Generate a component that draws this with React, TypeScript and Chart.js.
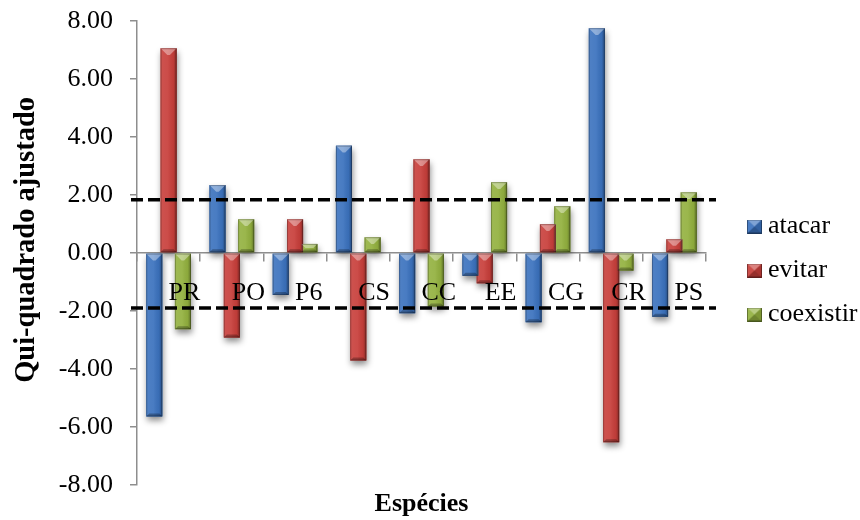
import React, { useEffect, useRef } from "react";
import { Chart, registerables } from "chart.js";

Chart.register(...registerables);

// Species codes on the category axis
const species = ["PR", "PO", "P6", "CS", "CC", "EE", "CG", "CR", "PS"];

// Adjusted chi-square residuals per behaviour
const atacar = [-5.64, 2.34, -1.45, 3.7, -2.08, -0.79, -2.39, 7.75, -2.2];
const evitar = [7.06, -2.92, 1.16, -3.71, 3.23, -1.05, 0.99, -6.53, 0.47];
const coexistir = [-2.63, 1.16, 0.31, 0.54, -1.85, 2.44, 1.61, -0.61, 2.09];

const seriesLabels = ["atacar", "evitar", "coexistir"];
const seriesColors = ["#3b72be", "#c83f3b", "#93b13f"];

// Significance thresholds drawn as dashed reference lines
const criticalLines = [1.83, -1.9];

// Value axis range
const yMin = -8;
const yMax = 8;
const yStep = 2;

const yTitle = "Qui-quadrado ajustado";
const xTitle = "Espécies";

const SERIF = "'Liberation Serif', 'Times New Roman', Times, serif";
const AXIS_GRAY = "#8e8e8e";

function drawBevel(ctx: CanvasRenderingContext2D, left: number, top: number, w: number, h: number) {
  if (w <= 0 || h <= 0) return;
  const right = left + w;
  const bottom = top + h;
  ctx.save();
  const g = ctx.createLinearGradient(left, 0, right, 0);
  g.addColorStop(0, "rgba(255,255,255,0.10)");
  g.addColorStop(0.45, "rgba(255,255,255,0.07)");
  g.addColorStop(0.8, "rgba(0,0,0,0.05)");
  g.addColorStop(1, "rgba(0,0,0,0.35)");
  ctx.fillStyle = g;
  ctx.fillRect(left, top, w, h);

  const d = Math.min(w * 0.42, h / 2);
  ctx.fillStyle = "rgba(255,255,255,0.38)";
  ctx.beginPath();
  ctx.moveTo(left, top);
  ctx.lineTo(right, top);
  ctx.lineTo(right - d, top + d);
  ctx.lineTo(left + d, top + d);
  ctx.closePath();
  ctx.fill();

  const b = Math.min(3, h / 3);
  ctx.fillStyle = "rgba(0,0,0,0.28)";
  ctx.beginPath();
  ctx.moveTo(left, bottom);
  ctx.lineTo(right, bottom);
  ctx.lineTo(right - b, bottom - b);
  ctx.lineTo(left + b, bottom - b);
  ctx.closePath();
  ctx.fill();

  ctx.strokeStyle = "rgba(0,0,0,0.25)";
  ctx.lineWidth = 1;
  ctx.strokeRect(left + 0.5, top + 0.5, w - 1, h - 1);
  ctx.restore();
}

// Legend marker: a small bevelled square, placed at the right of its image
function makeSwatch(color: string): HTMLCanvasElement {
  const c = document.createElement("canvas");
  c.width = 45;
  c.height = 14;
  const g = c.getContext("2d")!;
  const x0 = 30;
  const s = 15;
  const h = 14;
  const cx = x0 + s / 2;
  const cy = h / 2;
  g.fillStyle = color;
  g.fillRect(x0, 0, s, h);
  const tri = (pts: number[][], fill: string) => {
    g.fillStyle = fill;
    g.beginPath();
    g.moveTo(pts[0][0], pts[0][1]);
    for (let i = 1; i < pts.length; i++) g.lineTo(pts[i][0], pts[i][1]);
    g.closePath();
    g.fill();
  };
  tri([[x0, 0], [x0 + s, 0], [cx, cy]], "rgba(255,255,255,0.35)");
  tri([[x0, h], [x0 + s, h], [cx, cy]], "rgba(0,0,0,0.25)");
  tri([[x0 + s, 0], [x0 + s, h], [cx, cy]], "rgba(0,0,0,0.15)");
  tri([[x0, 0], [x0, h], [cx, cy]], "rgba(255,255,255,0.08)");
  g.strokeStyle = "rgba(0,0,0,0.35)";
  g.lineWidth = 1;
  g.strokeRect(x0 + 0.5, 0.5, s - 1, h - 1);
  return c;
}

function barRects(chart: any) {
  const rects: { left: number; top: number; w: number; h: number; color: string }[] = [];
  chart.data.datasets.forEach((ds: any, di: number) => {
    const meta = chart.getDatasetMeta(di);
    if (meta.hidden) return;
    meta.data.forEach((el: any) => {
      const { x, y, base, width } = el.getProps(["x", "y", "base", "width"], true);
      const top = Math.min(y, base);
      const h = Math.abs(base - y);
      rects.push({ left: x - width / 2, top, w: width, h, color: ds.backgroundColor });
    });
  });
  return rects;
}

const barShadowPlugin = {
  id: "barShadow",
  beforeDatasetsDraw(chart: any) {
    const ctx: CanvasRenderingContext2D = chart.ctx;
    ctx.save();
    ctx.shadowColor = "rgba(0,0,0,0.45)";
    ctx.shadowBlur = 6;
    ctx.shadowOffsetX = 1;
    ctx.shadowOffsetY = 4;
    for (const r of barRects(chart)) {
      ctx.fillStyle = r.color;
      ctx.fillRect(r.left, r.top, r.w, r.h);
    }
    ctx.restore();
  },
};

const barBevelPlugin = {
  id: "barBevel",
  afterDatasetsDraw(chart: any) {
    const ctx: CanvasRenderingContext2D = chart.ctx;
    for (const r of barRects(chart)) drawBevel(ctx, r.left, r.top, r.w, r.h);

    // dashed threshold lines, drawn over the bars
    const { left, right } = chart.chartArea;
    const yScale = chart.scales.y;
    ctx.save();
    ctx.strokeStyle = "#000";
    ctx.lineWidth = 3.5;
    ctx.setLineDash([12, 5]);
    for (const v of criticalLines) {
      const py = yScale.getPixelForValue(v);
      ctx.beginPath();
      ctx.moveTo(left - 6, py);
      ctx.lineTo(right + 10, py);
      ctx.stroke();
    }
    ctx.restore();
  },
};

// Vertical axis title, sitting slightly above the plot's vertical centre
const yTitlePlugin = {
  id: "yTitle",
  afterDraw(chart: any) {
    const ctx: CanvasRenderingContext2D = chart.ctx;
    const { top, bottom } = chart.chartArea;
    ctx.save();
    ctx.translate(chart.scales.y.left + 27, (top + bottom) / 2 - 13);
    ctx.rotate(-Math.PI / 2);
    ctx.font = `bold 28.5px ${SERIF}`;
    ctx.fillStyle = "#000";
    ctx.textAlign = "center";
    ctx.textBaseline = "middle";
    ctx.fillText(yTitle, 0, 0);
    ctx.restore();
  },
};

export default function App() {
  const ref = useRef<HTMLCanvasElement>(null);

  useEffect(() => {
    const canvas = ref.current;
    if (!canvas) return;
    const swatches = seriesColors.map(makeSwatch);
    const seriesValues = [atacar, evitar, coexistir];

    const chart = new Chart(canvas, {
      type: "bar",
      data: {
        labels: species,
        datasets: seriesValues.map((vals, i) => ({
          label: seriesLabels[i],
          data: vals,
          backgroundColor: seriesColors[i],
          borderWidth: 0,
          categoryPercentage: 0.68,
          barPercentage: 1.12,
        })),
      },
      options: {
        responsive: false,
        animation: false,
        devicePixelRatio: 1,
        layout: { padding: { top: 21, left: 0, right: 0, bottom: 0 } },
        plugins: {
          tooltip: { enabled: false },
          legend: {
            position: "right",
            align: "center",
            maxWidth: 154,
            labels: {
              usePointStyle: true,
              pointStyleWidth: 31,
              padding: 18,
              color: "#000",
              font: { family: SERIF, size: 26 },
              generateLabels: (c: any) =>
                (Chart.defaults.plugins.legend.labels as any)
                  .generateLabels(c)
                  .map((item: any) => ({ ...item, pointStyle: swatches[item.datasetIndex] })),
            },
          },
        },
        scales: {
          x: {
            type: "category",
            position: { y: 0 } as any,
            offset: true,
            grid: {
              display: true,
              drawOnChartArea: false,
              drawTicks: true,
              tickLength: 8,
              color: AXIS_GRAY,
              lineWidth: 1.5,
              offset: true,
            },
            border: { display: true, color: AXIS_GRAY, width: 1.5 },
            ticks: {
              z: 1,
              align: "start",
              padding: 17,
              color: "#000",
              font: { family: SERIF, size: 26 },
              maxRotation: 0,
              autoSkip: false,
            },
            afterFit: (s: any) => {
              s.height = 0;
            },
          },
          x2: {
            type: "category",
            axis: "x",
            position: "bottom",
            grid: { display: false, drawTicks: false },
            border: { display: false },
            ticks: { display: false },
            title: {
              display: true,
              text: xTitle,
              color: "#000",
              font: { family: SERIF, size: 26, weight: "bold" },
              padding: { top: 4, bottom: 0 },
            },
          },
          y: {
            min: yMin,
            max: yMax,
            ticks: {
              stepSize: yStep,
              padding: 17,
              color: "#000",
              font: { family: SERIF, size: 26 },
              callback: (v: any) => Number(v).toFixed(2),
            },
            grid: {
              drawOnChartArea: false,
              tickLength: 7,
              color: AXIS_GRAY,
              lineWidth: 1.5,
            },
            border: { color: AXIS_GRAY, width: 1.5 },
            title: { display: false },
            afterFit: (s: any) => {
              s.width = 137;
              s.paddingTop = 0;
              s.paddingBottom = 0;
            },
          },
        },
      } as any,
      plugins: [barShadowPlugin, barBevelPlugin, yTitlePlugin],
    });

    return () => chart.destroy();
  }, []);

  return (
    <div style={{ position: "fixed", left: 0, top: 0, width: 860, height: 520, background: "#fff" }}>
      <canvas ref={ref} width={860} height={520} style={{ display: "block", width: 860, height: 520 }} />
    </div>
  );
}
